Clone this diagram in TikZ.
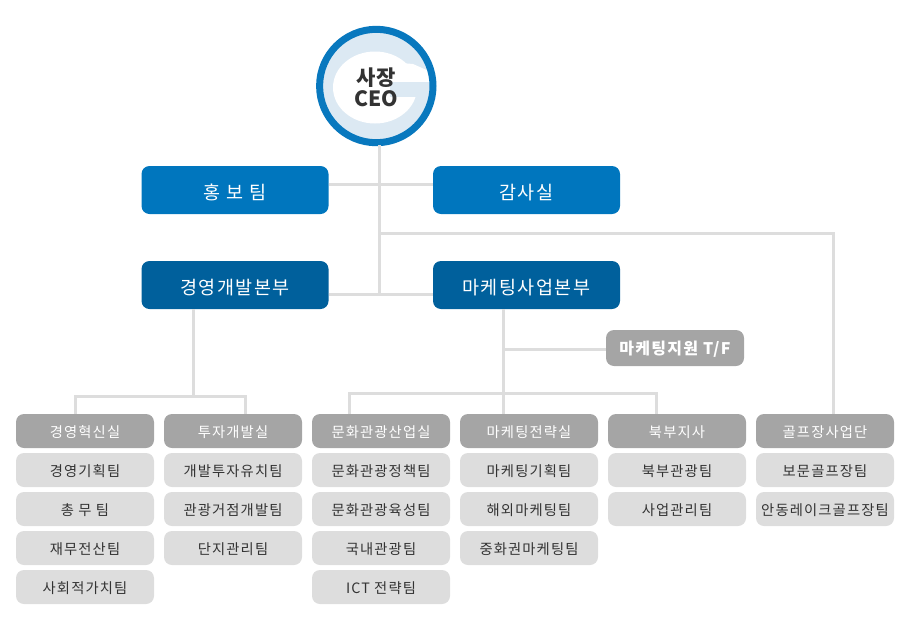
\documentclass[tikz,border=0pt]{standalone}
\usepackage{fontspec}
\setmainfont{Noto Sans CJK KR}
\newfontfamily\teamfont[LetterSpace=8]{Noto Sans CJK KR}
\definecolor{ceoblue}{HTML}{0878BE}
\definecolor{paleblue}{HTML}{DCE9F3}
\definecolor{topblue}{HTML}{0076BE}
\definecolor{deepblue}{HTML}{00609C}
\definecolor{headgray}{HTML}{A5A5A5}
\definecolor{teamgray}{HTML}{DDDDDD}
\definecolor{linkgray}{HTML}{DDDDDD}
\definecolor{teamtext}{HTML}{333333}
\tikzset{
  box/.style={rounded corners=8pt,inner sep=0pt,align=center,text height=14pt,text depth=2pt},
  office/.style={box,fill=topblue,text=white,minimum width=187pt,minimum height=48pt,text height=20pt,font=\teamfont\fontsize{18.5}{20}\selectfont},
  division/.style={office,fill=deepblue},
  head/.style={box,fill=headgray,text=white,minimum width=138pt,minimum height=34pt,font=\teamfont\fontsize{14.3}{16}\selectfont},
  team/.style={head,fill=teamgray,text=teamtext},
  link/.style={draw=linkgray,line width=3pt}
}
\begin{document}
\begin{tikzpicture}[x=1pt,y=-1pt]
  \useasboundingbox (0,0) rectangle (907,624);

  % The CEO badge
  \fill[paleblue] (376.3,86) circle (54);
  \fill[white] (375,87.5) ellipse (42 and 36);
  \fill[white] (390,82) -- (390,62) -- (413,64) -- (431,72) -- (431,82) -- cycle;
  \fill[paleblue] (390,82) rectangle (429,97);
  \draw[ceoblue,line width=7pt] (376.3,86) circle (56.7);
  \node[inner sep=0pt,font=\bfseries\fontsize{21}{23}\selectfont,text=teamtext] (ceoa) at (376,78) {사장};
  \node[inner sep=0pt,font=\bfseries\fontsize{21}{23}\selectfont,text=teamtext] (ceob) at (376,99) {CEO};
  \node[circle,inner sep=0pt,minimum size=120pt] (ceo) at (376.3,86) {};

  % Offices and divisions
  \node[office] (hongbo) at (235,190) {홍 보 팀};
  \node[office] (gamsa) at (526.5,190) {감사실};
  \node[division] (gyeongyeong) at (235,285) {경영개발본부};
  \node[division] (marketing) at (526.5,285) {마케팅사업본부};
  \node[head,minimum height=36pt,font=\teamfont\bfseries\fontsize{16}{18}\selectfont] (support) at (675,348) {마케팅지원 T/F};

  % Column heads
  \node[head] (innov) at (85,431) {경영혁신실};
  \node[head] (invest) at (233,431) {투자개발실};
  \node[head] (culture) at (381,431) {문화관광산업실};
  \node[head] (strategy) at (529,431) {마케팅전략실};
  \node[head] (north) at (677,431) {북부지사};
  \node[head] (golf) at (825,431) {골프장사업단};

  % Teams under each head
  \node[team] (innova) at (85,470) {경영기획팀};
  \node[team] (innovb) at (85,509) {총 무 팀};
  \node[team] (innovc) at (85,548) {재무전산팀};
  \node[team] (innovd) at (85,587) {사회적가치팀};
  \node[team] (investa) at (233,470) {개발투자유치팀};
  \node[team] (investb) at (233,509) {관광거점개발팀};
  \node[team] (investc) at (233,548) {단지관리팀};
  \node[team] (culturea) at (381,470) {문화관광정책팀};
  \node[team] (cultureb) at (381,509) {문화관광육성팀};
  \node[team] (culturec) at (381,548) {국내관광팀};
  \node[team] (cultured) at (381,587) {ICT 전략팀};
  \node[team] (strategya) at (529,470) {마케팅기획팀};
  \node[team] (strategyb) at (529,509) {해외마케팅팀};
  \node[team] (strategyc) at (529,548) {중화권마케팅팀};
  \node[team] (northa) at (677,470) {북부관광팀};
  \node[team] (northb) at (677,509) {사업관리팀};
  \node[team] (golfa) at (825,470) {보문골프장팀};
  \node[team] (golfb) at (825,509) {안동레이크골프장팀};

  % Junctions of the connectors
  \coordinate (trunktop) at (379.3,145);
  \coordinate (trunkoffice) at (379.3,184.5);
  \coordinate (trunkgolf) at (379.3,233);
  \coordinate (trunkend) at (379.3,294);
  \coordinate (leftdrop) at (193.5,396.5);
  \coordinate (rightdrop) at (503,393);
  \coordinate (rightbranch) at (503,349);

  % Connectors
  \draw[link] (trunktop) -- (trunkend);
  \draw[link] (hongbo.east |- trunkoffice) -- (gamsa.west |- trunkoffice);
  \draw[link] (gyeongyeong.east |- trunkend) -- (marketing.west |- trunkend);
  \draw[link] (trunkgolf) -| (833,414);
  \draw[link] (leftdrop |- gyeongyeong.south) -- (leftdrop);
  \draw[link] (75,414) |- (leftdrop) -| (245,414);
  \draw[link] (rightdrop |- marketing.south) -- (503,414);
  \draw[link] (rightbranch) -- (support.west |- rightbranch);
  \draw[link] (349,414) |- (rightdrop) -| (656,414);
\end{tikzpicture}
\end{document}
